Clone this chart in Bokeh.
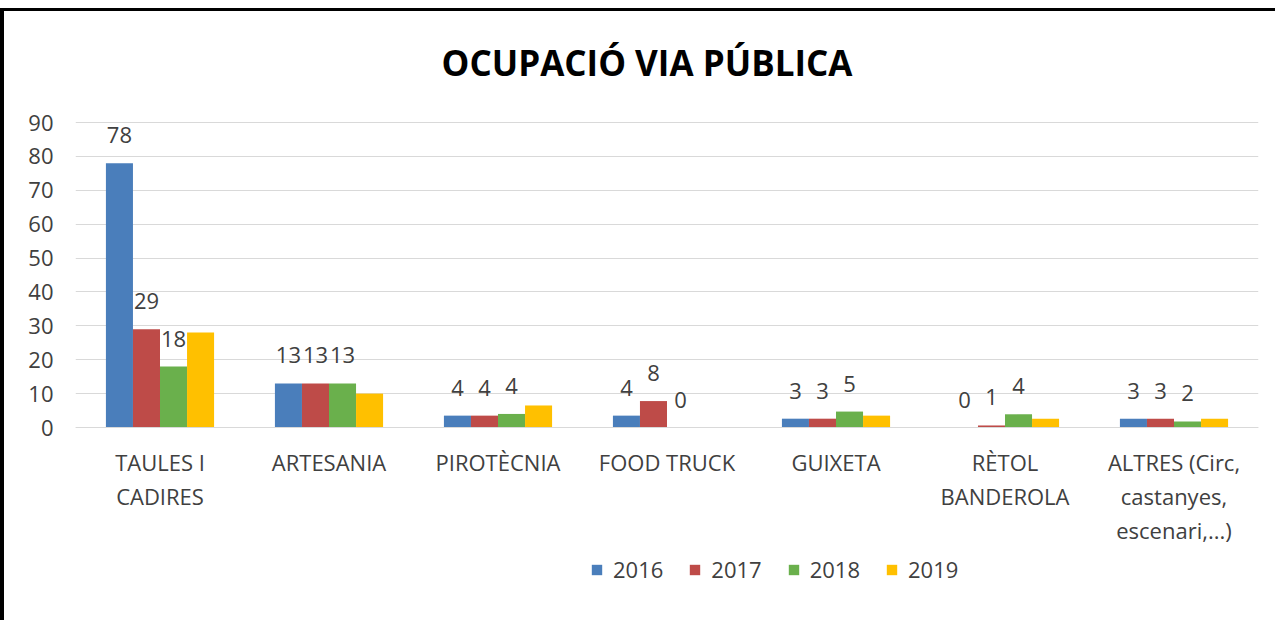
from bokeh.plotting import figure
from bokeh.models import (ColumnDataSource, FactorRange, Range1d, FixedTicker, Legend,
                          LegendItem, Label)
from bokeh.transform import dodge
from bokeh.embed import file_html
from bokeh.resources import INLINE
from bokeh.core.properties import value

categories = ["TAULES I\nCADIRES", "ARTESANIA", "PIROTÈCNIA", "FOOD TRUCK", "GUIXETA",
              "RÈTOL\nBANDEROLA", "ALTRES (Circ,\ncastanyes,\nescenari,...)"]
years = ["2016", "2017", "2018", "2019"]
v2016 = [78, 13, 3.5, 3.5, 2.6, 0, 2.6]
v2017 = [29, 13, 3.5, 7.8, 2.6, 0.6, 2.6]
v2018 = [18, 13, 4, 0, 4.7, 3.9, 1.8]
v2019 = [28, 10, 6.5, 0, 3.5, 2.6, 2.6]
labeled_years = ["2016", "2017", "2018"]
y_ticks = [0, 10, 20, 30, 40, 50, 60, 70, 80, 90]
title_text = "OCUPACIÓ VIA PÚBLICA"

colors = ["#4A7EBB", "#BE4B48", "#6AB04C", "#FFC000"]
offsets = [-0.24, -0.08, 0.08, 0.24]
bar_w = 0.16
FONT = "Open Sans"
TXT = "#404040"

# canvas geometry (pixels)
W, H = 1275, 612
B_LEFT, B_RIGHT, B_TOP, B_BOTTOM = 71, 21, 2, 2
TOP90_PX = 111           # canvas y of the value 90
ZERO_PX = 416            # canvas y of the value 0
TITLE_PX = 51            # canvas y of the title centre
Y_MAX = 90
ppu = (ZERO_PX - TOP90_PX) / Y_MAX
y_start = -((H - B_BOTTOM) - ZERO_PX) / ppu
y_end = Y_MAX + (TOP90_PX - B_TOP) / ppu
y_title = Y_MAX + (TOP90_PX - TITLE_PX) / ppu

series = [v2016, v2017, v2018, v2019]
data = {"cat": categories}
for y, vals in zip(years, series):
    data[y] = vals
    data[y + "_lbl"] = ["{:.0f}".format(v) for v in vals]
src = ColumnDataSource(data)

p = figure(x_range=FactorRange(*categories), y_range=Range1d(y_start, y_end),
           width=W, height=H, output_backend="svg", toolbar_location=None, title=None,
           min_border_left=B_LEFT, min_border_right=B_RIGHT, min_border_top=B_TOP,
           min_border_bottom=B_BOTTOM,
           styles={"margin-top": "8px", "border-top": "3px solid black",
                   "border-left": "4px solid black"})

p.outline_line_color = None
p.xgrid.grid_line_color = None
p.ygrid.grid_line_color = "#D9D9D9"
p.ygrid.grid_line_width = 1
p.yaxis.ticker = FixedTicker(ticks=y_ticks)

p.yaxis.axis_line_color = None
p.yaxis.major_tick_line_color = None
p.yaxis.minor_tick_line_color = None
p.yaxis.major_label_standoff = 16
p.yaxis.major_label_text_font = FONT
p.yaxis.major_label_text_font_size = "22px"
p.yaxis.major_label_text_color = TXT

p.xaxis.fixed_location = 0
p.xaxis.axis_line_color = "#D9D9D9"
p.xaxis.major_tick_line_color = None
p.xaxis.minor_tick_line_color = None
p.xaxis.major_label_standoff = 13
p.xaxis.major_label_text_font = FONT
p.xaxis.major_label_text_font_size = "22px"
p.xaxis.major_label_text_color = TXT
p.xaxis.major_label_text_line_height = 1.14

title = Label(x=len(categories) / 2, y=y_title, x_offset=-20, text=title_text,
              text_align="center", text_baseline="middle", text_font=FONT,
              text_font_style="bold", text_font_size="35px", text_color="black")
p.add_layout(title)

items = []
for y, c, off in zip(years, colors, offsets):
    r = p.vbar(x=dodge("cat", off, range=p.x_range), top=y, width=bar_w, source=src,
               fill_color=c, line_color=None)
    items.append(LegendItem(label=y, renderers=[r]))
    if y in labeled_years:
        p.text(x=dodge("cat", off, range=p.x_range), y=y, text=y + "_lbl", source=src,
               text_align="center", text_baseline="middle", y_offset=-28,
               text_font=value(FONT), text_font_size="22px", text_color=TXT)

legend = Legend(items=items, orientation="horizontal", location=(515, 37),
                label_text_font=FONT, label_text_font_size="22px", label_text_color=TXT,
                glyph_width=13, glyph_height=13, label_standoff=10, spacing=25,
                padding=0, margin=0, border_line_color=None, background_fill_alpha=0)
p.add_layout(legend, "center")

open("out.html", "w").write(file_html(p, INLINE))
